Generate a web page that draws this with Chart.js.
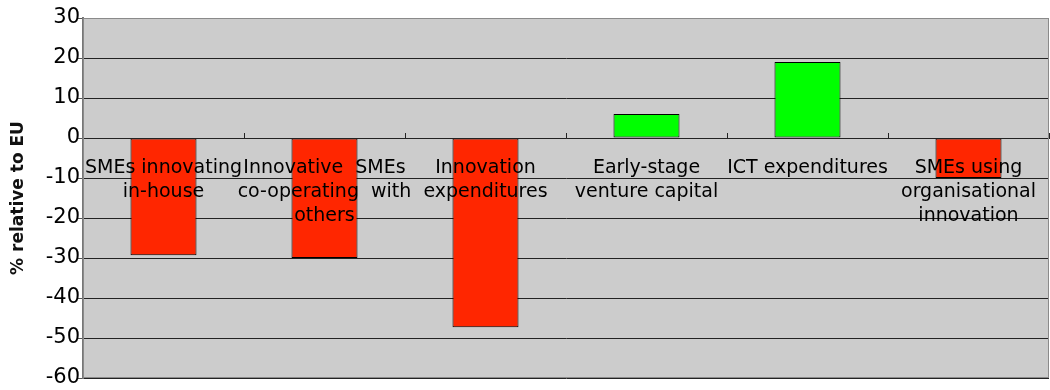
<!DOCTYPE html>
<html>
<head>
<meta charset="utf-8">
<script src="https://cdn.jsdelivr.net/npm/chart.js@4"></script>
<style>
  html, body { margin: 0; padding: 0; background: #fff; }
  #wrap { width: 1050px; height: 390px; }
</style>
</head>
<body>
<div id="wrap"><canvas id="myChart"></canvas></div>
<script>
// categories (wrapped the way the original chart wraps them)
const categories = [
    ['SMEs innovating', 'in-house'],
    ['Innovative  SMEs', 'co-operating  with', 'others'],
    ['Innovation', 'expenditures'],
    ['Early-stage', 'venture capital'],
    ['ICT expenditures'],
    ['SMEs using', 'organisational', 'innovation']
];
// % relative to EU
const values = [-29.3, -30, -47.3, 6, 19, -10];
const yTicks = { min: -60, max: 30, step: 10 };

const barColors = values.map(v => v < 0 ? '#ff2600' : '#00ff00');

// grey plot background + outline, like the old spreadsheet chart
const plotArea = {
    id: 'plotArea',
    beforeDraw(chart) {
        const { ctx, chartArea: a } = chart;
        ctx.save();
        ctx.fillStyle = '#cccccc';
        ctx.fillRect(a.left, a.top, a.right - a.left, a.bottom - a.top);
        ctx.restore();
    },
    afterDraw(chart) {
        const { ctx, chartArea: a, scales } = chart;
        ctx.save();
        ctx.strokeStyle = '#8a8a8a';
        ctx.lineWidth = 1;
        ctx.strokeRect(a.left + 0.5, a.top + 0.5, a.right - a.left - 1, a.bottom - a.top - 1);

        // little upward tick marks between categories on the zero line
        const y0 = scales.y.getPixelForValue(0);
        ctx.strokeStyle = '#222';
        ctx.beginPath();
        for (let i = 0; i < categories.length; i++) {
            const x = Math.round(scales.x.getPixelForValue(i) + (scales.x.getPixelForValue(1) - scales.x.getPixelForValue(0)) / 2) + 0.5;
            ctx.moveTo(x, y0);
            ctx.lineTo(x, y0 - 5);
        }
        ctx.stroke();
        ctx.restore();
    }
};

const ctx = document.getElementById('myChart').getContext('2d');
const myChart = new Chart(ctx, {
    type: 'bar',
    data: {
        labels: categories,
        datasets: [{
            label: '% relative to EU',
            data: values,
            backgroundColor: barColors,
            borderColor: '#000',
            borderWidth: 1,
            borderSkipped: false,
            categoryPercentage: 1,
            barPercentage: 0.41
        }]
    },
    options: {
        responsive: true,
        maintainAspectRatio: false,
        animation: false,
        layout: {
            autoPadding: false,
            padding: { left: 0, top: 18, right: 1, bottom: 12 }
        },
        plugins: {
            legend: { display: false },
            tooltip: { enabled: false }
        },
        scales: {
            x: {
                position: { y: 0 },
                grid: { display: false },
                border: { display: true, color: '#222', width: 1, z: 1 },
                ticks: {
                    z: 2,
                    autoSkip: false,
                    maxRotation: 0,
                    padding: 10,
                    color: '#000',
                    font: { family: 'DejaVu Sans', size: 19, lineHeight: 1.27 }
                }
            },
            y: {
                min: yTicks.min,
                max: yTicks.max,
                afterFit: scale => { scale.width = 83; },
                grid: {
                    color: '#222',
                    drawTicks: true,
                    tickLength: 5,
                    tickColor: '#555'
                },
                border: { display: true, color: '#777', width: 2 },
                ticks: {
                    stepSize: yTicks.step,
                    padding: -2,
                    color: '#000',
                    font: { family: 'DejaVu Sans', size: 21 }
                },
                title: {
                    display: true,
                    text: '% relative to EU',
                    color: '#111',
                    padding: { top: 8, bottom: 2 },
                    font: { family: 'DejaVu Sans', size: 17, weight: 'bold' }
                }
            }
        }
    },
    plugins: [plotArea]
});
</script>
</body>
</html>
